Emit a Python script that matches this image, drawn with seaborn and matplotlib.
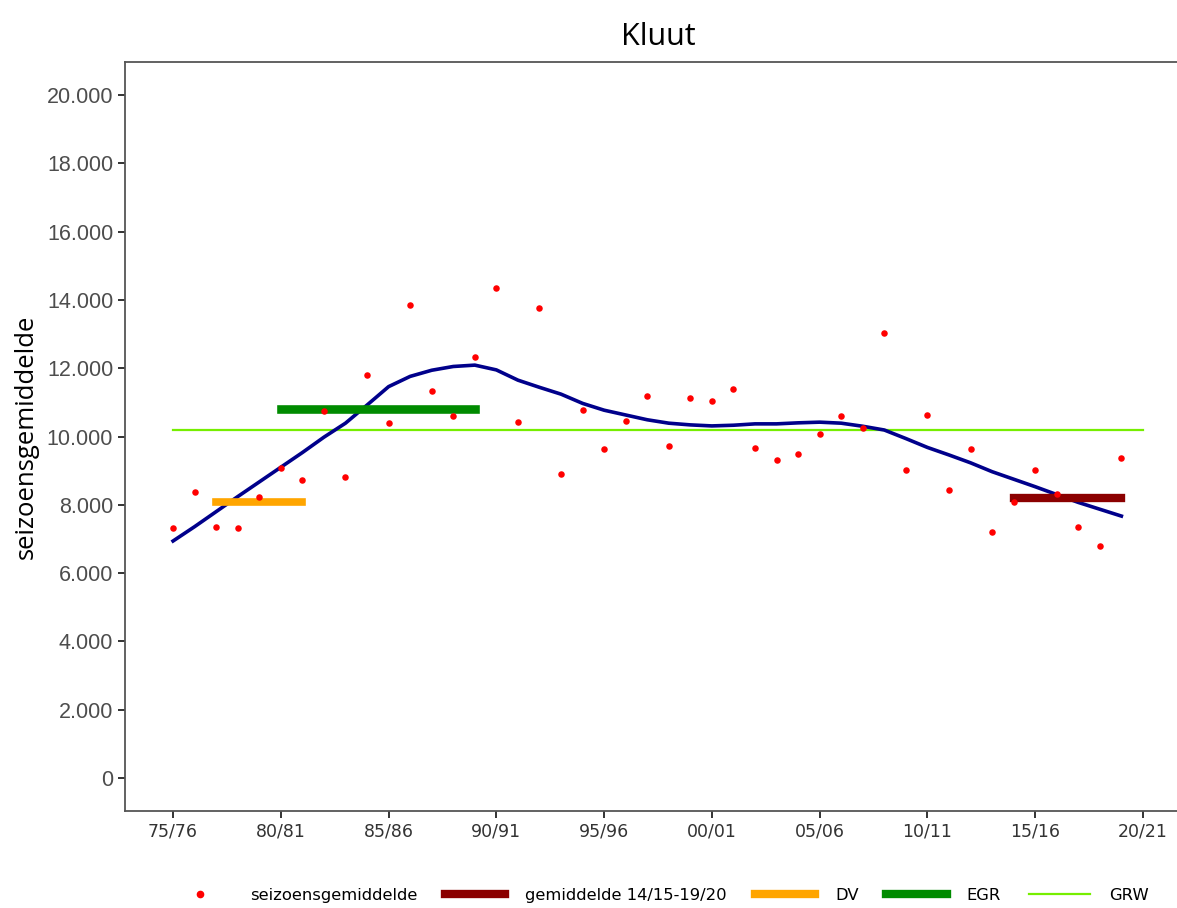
import pandas as pd
import matplotlib.pyplot as plt
import seaborn as sns
from matplotlib.lines import Line2D
from matplotlib.ticker import FuncFormatter

# seizoenen 75/76 t/m 20/21
seasons = ["%02d/%02d" % (y % 100, (y + 1) % 100) for y in range(1975, 2021)]

# seizoensgemiddelde per seizoen (75/76 - 19/20)
season_avg = [7320, 8370, 7350, 7320, 8230, 9080, 8730, 10750, 8810, 11800,
              10400, 13850, 11330, 10600, 12330, 14360, 10420, 13760, 8900, 10780,
              9630, 10450, 11190, 9720, 11130, 11040, 11390, 9660, 9310, 9490,
              10070, 10600, 10250, 13030, 9020, 10630, 8430, 9630, 7200, 8080,
              9020, 8320, 7350, 6790, 9370]

trend = [6940, 7360, 7800, 8240, 8670, 9100, 9530, 9980, 10390, 10920,
         11460, 11760, 11940, 12050, 12090, 11950, 11650, 11440, 11240, 10970,
         10770, 10630, 10490, 10390, 10340, 10310, 10330, 10370, 10370, 10400,
         10420, 10390, 10300, 10190, 9940, 9680, 9460, 9230, 8970, 8750,
         8530, 8300, 8070, 7870, 7670]

# referentielijnen: (begin, eind, waarde)
gem_periode = ("14/15", "19/20", 8190)
dv_periode = ("77/78", "81/82", 8090)
egr_periode = ("80/81", "89/90", 10800)
grw_periode = ("75/76", "20/21", 10190)

yticks = list(range(0, 20001, 2000))
xtick_labels = seasons[::5]

pos = {s: i for i, s in enumerate(seasons)}
df = pd.DataFrame({"x": range(len(season_avg)), "gem": season_avg, "trend": trend})

def seg(p):
    return pd.DataFrame({"x": [pos[p[0]], pos[p[1]]], "y": [p[2], p[2]]})

fig = plt.figure(figsize=(11.77, 9.08), dpi=100)
ax = fig.add_axes([125 / 1177, 97 / 908, 1066 / 1177, 749 / 908])

sns.lineplot(data=seg(grw_periode), x="x", y="y", color="#76EE00", linewidth=1.6, ax=ax)
sns.lineplot(data=df, x="x", y="trend", color="#00008B", linewidth=2.6, ax=ax)
sns.lineplot(data=seg(egr_periode), x="x", y="y", color="#008B00", linewidth=6.2, ax=ax)
sns.lineplot(data=seg(dv_periode), x="x", y="y", color="#FFA500", linewidth=5.5, ax=ax)
sns.lineplot(data=seg(gem_periode), x="x", y="y", color="#8B0000", linewidth=6.0, ax=ax)
sns.scatterplot(data=df, x="x", y="gem", color="#FF0000", s=22, linewidth=0, ax=ax, zorder=5)

ax.set_xlim(-2.23, 47.23)
ax.set_ylim(-966, 20966)
ax.set_xticks([pos[s] for s in xtick_labels])
ax.set_xticklabels(xtick_labels, fontsize=12.5, color="#333333", family=["Liberation Sans Narrow", "DejaVu Sans"])
ax.set_yticks(yticks)
ax.yaxis.set_major_formatter(FuncFormatter(lambda v, p: f"{int(v):,}".replace(",", ".")))
for t in ax.get_yticklabels():
    t.set_fontsize(15.5)
    t.set_color("#4D4D4D")
    t.set_family("Liberation Sans")
ax.tick_params(length=5, width=1.4, color="#333333")
ax.set_xlabel("")
ax.set_ylabel("seizoensgemiddelde", fontsize=18.5, family="Open Sans", labelpad=6)
ax.set_title("Kluut", fontsize=22, family="Open Sans", pad=12)
for sp in ax.spines.values():
    sp.set_color("#555555")
    sp.set_linewidth(1.3)

handles = [
    Line2D([], [], marker="o", linestyle="", color="#FF0000", markersize=4.5),
    Line2D([], [], color="#8B0000", linewidth=6),
    Line2D([], [], color="#FFA500", linewidth=6),
    Line2D([], [], color="#008B00", linewidth=6),
    Line2D([], [], color="#76EE00", linewidth=1.6),
]
labels = ["seizoensgemiddelde", "gemiddelde 14/15-19/20", "DV", "EGR", "GRW"]
fig.legend(handles, labels, loc="upper center", bbox_to_anchor=(0.56, 22 / 908), ncol=5,
           frameon=False, handlelength=3.7, columnspacing=1.7, handletextpad=1.2,
           borderaxespad=0, borderpad=0.1,
           prop={"family": ["Liberation Sans Narrow", "DejaVu Sans"], "size": 11.8})

fig.savefig("out.png", dpi=100)
